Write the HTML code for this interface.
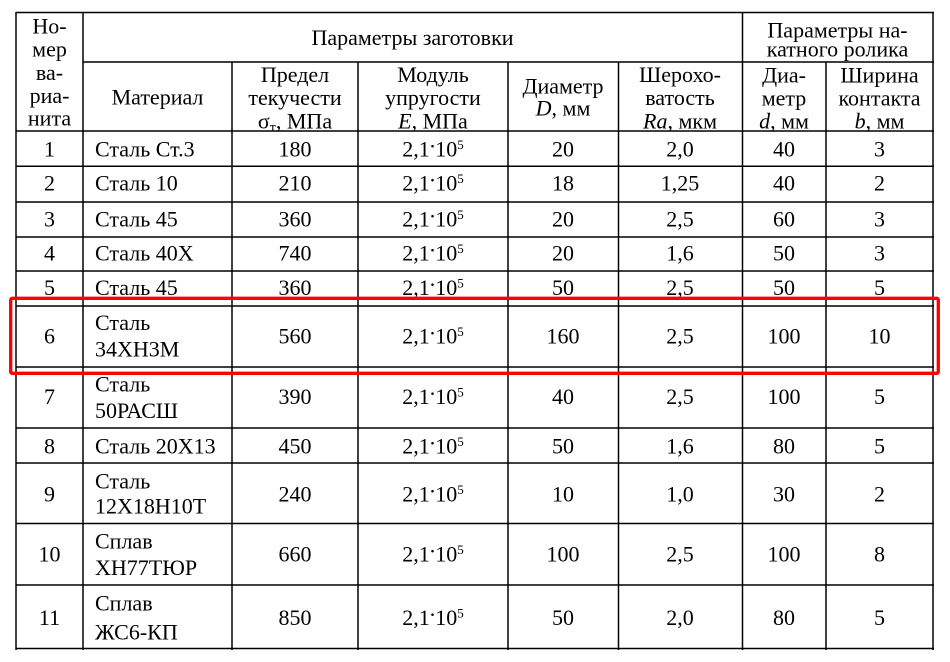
<!DOCTYPE html>
<html><head><meta charset="utf-8"><style>
html,body{margin:0;padding:0;background:#fff;}
svg{display:block;}
text{font-family:"Liberation Serif","DejaVu Serif",serif;font-size:22px;fill:#000;}
.c{text-anchor:middle;}
.i{font-style:italic;}
</style></head><body>
<svg width="950" height="662" viewBox="0 0 950 662" xmlns="http://www.w3.org/2000/svg">
<rect width="950" height="662" fill="#fff"/>
<g stroke="#000" stroke-width="1.5">
<line x1="16" y1="12.5" x2="934" y2="12.5"/>
<line x1="83" y1="62" x2="934" y2="62"/>
<line x1="16" y1="131" x2="934" y2="131"/>
<line x1="16" y1="166.3" x2="934" y2="166.3"/>
<line x1="16" y1="202" x2="934" y2="202"/>
<line x1="16" y1="237" x2="934" y2="237"/>
<line x1="16" y1="271" x2="934" y2="271"/>
<line x1="16" y1="306" x2="934" y2="306"/>
<line x1="16" y1="367" x2="934" y2="367"/>
<line x1="16" y1="428" x2="934" y2="428"/>
<line x1="16" y1="463" x2="934" y2="463"/>
<line x1="16" y1="523.5" x2="934" y2="523.5"/>
<line x1="16" y1="585" x2="934" y2="585"/>
<line x1="16" y1="648.5" x2="934" y2="648.5"/>
<line x1="16" y1="12" x2="16" y2="650"/>
<line x1="83" y1="12" x2="83" y2="650"/>
<line x1="232" y1="62" x2="232" y2="650"/>
<line x1="358" y1="62" x2="358" y2="650"/>
<line x1="508" y1="62" x2="508" y2="650"/>
<line x1="618.5" y1="62" x2="618.5" y2="650"/>
<line x1="742.5" y1="12" x2="742.5" y2="650"/>
<line x1="826" y1="62" x2="826" y2="650"/>
<line x1="933" y1="12" x2="933" y2="650"/>
</g>

<!-- Header -->
<text class="c" x="49.5" y="33.3">Но-</text>
<text class="c" x="49.5" y="56.7">мер</text>
<text class="c" x="49.5" y="80">ва-</text>
<text class="c" x="49.5" y="103">риа-</text>
<text class="c" x="49.5" y="125.5">нита</text>

<text class="c" x="412.5" y="45">Параметры заготовки</text>
<text class="c" x="837.5" y="37.3">Параметры на-</text>
<text class="c" x="837.5" y="56.5">катного ролика</text>

<text class="c" x="157.5" y="104.3">Материал</text>

<text class="c" x="295" y="82">Предел</text>
<text class="c" x="295" y="105">текучести</text>
<text class="c" x="295" y="128.3">σ<tspan font-size="14" dy="3">т</tspan><tspan dy="-3">, МПа</tspan></text>

<text class="c" x="433" y="82">Модуль</text>
<text class="c" x="433" y="105">упругости</text>
<text class="c" x="433" y="128.3"><tspan class="i">E</tspan>, МПа</text>

<text class="c" x="563" y="93.3">Диаметр</text>
<text class="c" x="563" y="115.5"><tspan class="i">D</tspan>, мм</text>

<text class="c" x="680" y="82">Шерохо-</text>
<text class="c" x="680" y="105">ватость</text>
<text class="c" x="680" y="128.3"><tspan class="i">Ra</tspan>, мкм</text>

<text class="c" x="784" y="82.5">Диа-</text>
<text class="c" x="784" y="105.5">метр</text>
<text class="c" x="784" y="128.3"><tspan class="i">d</tspan>, мм</text>

<text class="c" x="879.5" y="82.5">Ширина</text>
<text class="c" x="879.5" y="105.5">контакта</text>
<text class="c" x="879.5" y="128.3"><tspan class="i">b</tspan>, мм</text>

<!-- Row 1 -->
<text class="c" x="49.5" y="156.7">1</text>
<text x="95" y="156.7">Сталь Ст.3</text>
<text class="c" x="295" y="156.7">180</text>
<text class="c" x="433" y="156.7">2,1<tspan dy="-9">.</tspan><tspan dy="9">10</tspan><tspan dy="-7.5" font-size="13">5</tspan></text>
<text class="c" x="563" y="156.7">20</text>
<text class="c" x="680" y="156.7">2,0</text>
<text class="c" x="784" y="156.7">40</text>
<text class="c" x="879.5" y="156.7">3</text>

<!-- Row 2 -->
<text class="c" x="49.5" y="190.7">2</text>
<text x="95" y="190.7">Сталь 10</text>
<text class="c" x="295" y="190.7">210</text>
<text class="c" x="433" y="190.7">2,1<tspan dy="-9">.</tspan><tspan dy="9">10</tspan><tspan dy="-7.5" font-size="13">5</tspan></text>
<text class="c" x="563" y="190.7">18</text>
<text class="c" x="680" y="190.7">1,25</text>
<text class="c" x="784" y="190.7">40</text>
<text class="c" x="879.5" y="190.7">2</text>

<!-- Row 3 -->
<text class="c" x="49.5" y="226.7">3</text>
<text x="95" y="226.7">Сталь 45</text>
<text class="c" x="295" y="226.7">360</text>
<text class="c" x="433" y="226.7">2,1<tspan dy="-9">.</tspan><tspan dy="9">10</tspan><tspan dy="-7.5" font-size="13">5</tspan></text>
<text class="c" x="563" y="226.7">20</text>
<text class="c" x="680" y="226.7">2,5</text>
<text class="c" x="784" y="226.7">60</text>
<text class="c" x="879.5" y="226.7">3</text>

<!-- Row 4 -->
<text class="c" x="49.5" y="260.7">4</text>
<text x="95" y="260.7">Сталь 40Х</text>
<text class="c" x="295" y="260.7">740</text>
<text class="c" x="433" y="260.7">2,1<tspan dy="-9">.</tspan><tspan dy="9">10</tspan><tspan dy="-7.5" font-size="13">5</tspan></text>
<text class="c" x="563" y="260.7">20</text>
<text class="c" x="680" y="260.7">1,6</text>
<text class="c" x="784" y="260.7">50</text>
<text class="c" x="879.5" y="260.7">3</text>

<!-- Row 5 -->
<text class="c" x="49.5" y="295">5</text>
<text x="95" y="295">Сталь 45</text>
<text class="c" x="295" y="295">360</text>
<text class="c" x="433" y="295">2,1<tspan dy="-9">.</tspan><tspan dy="9">10</tspan><tspan dy="-7.5" font-size="13">5</tspan></text>
<text class="c" x="563" y="295">50</text>
<text class="c" x="680" y="295">2,5</text>
<text class="c" x="784" y="295">50</text>
<text class="c" x="879.5" y="295">5</text>

<!-- Row 6 -->
<text class="c" x="49.5" y="343.3">6</text>
<text x="95" y="330">Сталь</text>
<text x="95" y="356.7">34ХН3М</text>
<text class="c" x="295" y="343.3">560</text>
<text class="c" x="433" y="343.3">2,1<tspan dy="-9">.</tspan><tspan dy="9">10</tspan><tspan dy="-7.5" font-size="13">5</tspan></text>
<text class="c" x="563" y="343.3">160</text>
<text class="c" x="680" y="343.3">2,5</text>
<text class="c" x="784" y="343.3">100</text>
<text class="c" x="879.5" y="343.3">10</text>

<!-- Row 7 -->
<text class="c" x="49.5" y="404">7</text>
<text x="95" y="391.7">Сталь</text>
<text x="95" y="418">50РАСШ</text>
<text class="c" x="295" y="404">390</text>
<text class="c" x="433" y="404">2,1<tspan dy="-9">.</tspan><tspan dy="9">10</tspan><tspan dy="-7.5" font-size="13">5</tspan></text>
<text class="c" x="563" y="404">40</text>
<text class="c" x="680" y="404">2,5</text>
<text class="c" x="784" y="404">100</text>
<text class="c" x="879.5" y="404">5</text>

<!-- Row 8 -->
<text class="c" x="49.5" y="453.3">8</text>
<text x="95" y="453.3">Сталь 20Х13</text>
<text class="c" x="295" y="453.3">450</text>
<text class="c" x="433" y="453.3">2,1<tspan dy="-9">.</tspan><tspan dy="9">10</tspan><tspan dy="-7.5" font-size="13">5</tspan></text>
<text class="c" x="563" y="453.3">50</text>
<text class="c" x="680" y="453.3">1,6</text>
<text class="c" x="784" y="453.3">80</text>
<text class="c" x="879.5" y="453.3">5</text>

<!-- Row 9 -->
<text class="c" x="49.5" y="501.7">9</text>
<text x="95" y="488.3">Сталь</text>
<text x="95" y="513.3">12Х18Н10Т</text>
<text class="c" x="295" y="501.7">240</text>
<text class="c" x="433" y="501.7">2,1<tspan dy="-9">.</tspan><tspan dy="9">10</tspan><tspan dy="-7.5" font-size="13">5</tspan></text>
<text class="c" x="563" y="501.7">10</text>
<text class="c" x="680" y="501.7">1,0</text>
<text class="c" x="784" y="501.7">30</text>
<text class="c" x="879.5" y="501.7">2</text>

<!-- Row 10 -->
<text class="c" x="49.5" y="561.7">10</text>
<text x="95" y="548.3">Сплав</text>
<text x="95" y="575">ХН77ТЮР</text>
<text class="c" x="295" y="561.7">660</text>
<text class="c" x="433" y="561.7">2,1<tspan dy="-9">.</tspan><tspan dy="9">10</tspan><tspan dy="-7.5" font-size="13">5</tspan></text>
<text class="c" x="563" y="561.7">100</text>
<text class="c" x="680" y="561.7">2,5</text>
<text class="c" x="784" y="561.7">100</text>
<text class="c" x="879.5" y="561.7">8</text>

<!-- Row 11 -->
<text class="c" x="49.5" y="625">11</text>
<text x="95" y="610.5">Сплав</text>
<text x="95" y="639.5">ЖС6-КП</text>
<text class="c" x="295" y="625">850</text>
<text class="c" x="433" y="625">2,1<tspan dy="-9">.</tspan><tspan dy="9">10</tspan><tspan dy="-7.5" font-size="13">5</tspan></text>
<text class="c" x="563" y="625">50</text>
<text class="c" x="680" y="625">2,0</text>
<text class="c" x="784" y="625">80</text>
<text class="c" x="879.5" y="625">5</text>

<!-- Red highlight -->
<rect x="10.7" y="298.3" width="927.6" height="75" rx="1.5" fill="none" stroke="#f00" stroke-width="3.3"/>
</svg>
</body></html>
